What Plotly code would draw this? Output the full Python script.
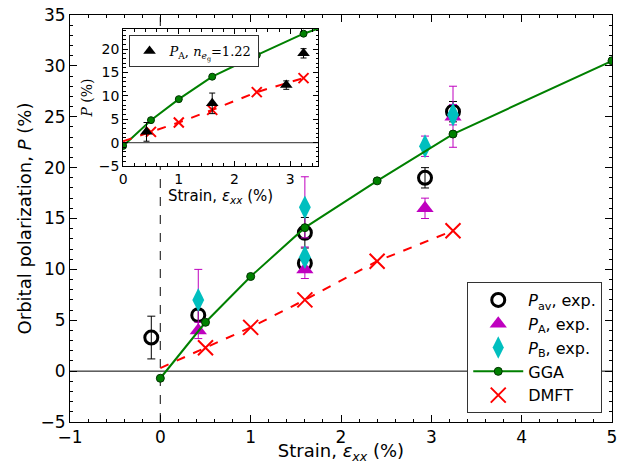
import plotly.graph_objects as go

# ---- data ----
gga_x = [0.0, 0.5, 1.0, 1.6, 2.4, 3.24, 5.0]
gga_y = [-0.7, 4.8, 9.3, 14.1, 18.7, 23.3, 30.5]

dmft_line_x = [0.0, 0.5, 1.0, 1.6, 2.4, 3.24]
dmft_line_y = [0.3, 2.3, 4.3, 7.0, 10.8, 13.8]
dmft_x = [0.5, 1.0, 1.6, 2.4, 3.24]
dmft_y = [2.3, 4.3, 7.0, 10.8, 13.8]

pav_x = [-0.1, 0.42, 1.6, 1.6, 2.93, 3.24]
pav_y = [3.3, 5.5, 13.6, 10.6, 19.0, 25.5]
pav_err = [2.1, 0.5, 1.5, 0.5, 1.0, 1.0]

pa_x = [0.42, 1.6, 2.93, 3.24]
pa_y = [4.0, 10.0, 16.0, 25.0]
pa_err = [0.8, 0.9, 1.0, 3.0]

pb_x = [0.42, 1.6, 1.6, 2.93, 3.24]
pb_y = [7.0, 16.1, 11.2, 22.1, 25.2]
pb_err = [3.0, 3.0, 1.0, 1.0, 1.0]

inset_pa_x = [0.42, 1.6, 2.93, 3.24]
inset_pa_y = [2.3, 8.4, 12.3, 19.1]
inset_pa_err = [2.0, 2.2, 0.9, 1.0]

main_xticks = [-1, 0, 1, 2, 3, 4, 5]
main_yticks = [-5, 0, 5, 10, 15, 20, 25, 30, 35]
inset_xticks = [0, 1, 2, 3]
inset_yticks = [-5, 0, 5, 10, 15, 20]

FONT = "DejaVu Sans"
MAG = "#bf00bf"
CYA = "#00bfbf"
GRN = "#008000"

fig = go.Figure()

# reference lines (main)
fig.add_trace(go.Scatter(x=[0, 0], y=[-5, 35], mode="lines",
                         line=dict(color="#333333", dash="dash", width=1.2),
                         showlegend=False, hoverinfo="skip"))
fig.add_trace(go.Scatter(x=[-1, 5], y=[0, 0], mode="lines",
                         line=dict(color="black", width=1),
                         showlegend=False, hoverinfo="skip"))

fig.add_trace(go.Scatter(x=pav_x, y=pav_y, mode="markers", name="<i>P</i><sub>av</sub>, exp.",
                         marker=dict(symbol="circle-open", size=13, color="black", line=dict(width=3, color="black")),
                         error_y=dict(type="data", array=pav_err, color="black", thickness=1, width=4)))
fig.add_trace(go.Scatter(x=pa_x, y=pa_y, mode="markers", name="<i>P</i><sub>A</sub>, exp.",
                         marker=dict(symbol="triangle-up", size=15, color=MAG, line=dict(width=0)),
                         error_y=dict(type="data", array=pa_err, color=MAG, thickness=1, width=4)))
fig.add_trace(go.Scatter(x=pb_x, y=pb_y, mode="markers", name="<i>P</i><sub>B</sub>, exp.",
                         marker=dict(symbol="diamond-tall", size=17, color=CYA, line=dict(width=0)),
                         error_y=dict(type="data", array=pb_err, color=MAG, thickness=1, width=4)))
fig.add_trace(go.Scatter(x=gga_x, y=gga_y, mode="lines+markers", name="GGA",
                         line=dict(color=GRN, width=2),
                         marker=dict(symbol="circle", size=8, color=GRN, line=dict(width=1, color="#003300"))))
fig.add_trace(go.Scatter(x=dmft_line_x, y=dmft_line_y, mode="lines", showlegend=False,
                         line=dict(color="red", width=2, dash="dash"), hoverinfo="skip"))
fig.add_trace(go.Scatter(x=dmft_x, y=dmft_y, mode="markers", name="DMFT",
                         marker=dict(symbol="x-thin-open", size=15, color="red", line=dict(width=2, color="red"))))

# ---- inset ----
fig.add_trace(go.Scatter(x=[0, 3.5], y=[0, 0], mode="lines", xaxis="x2", yaxis="y2",
                         line=dict(color="#555555", width=1.2), showlegend=False, hoverinfo="skip"))
fig.add_trace(go.Scatter(x=gga_x, y=gga_y, mode="lines+markers", xaxis="x2", yaxis="y2", showlegend=False,
                         line=dict(color=GRN, width=2),
                         marker=dict(symbol="circle", size=7, color=GRN, line=dict(width=1, color="#003300"))))
fig.add_trace(go.Scatter(x=dmft_line_x, y=dmft_line_y, mode="lines", xaxis="x2", yaxis="y2", showlegend=False,
                         line=dict(color="red", width=2, dash="dash"), hoverinfo="skip"))
fig.add_trace(go.Scatter(x=dmft_x, y=dmft_y, mode="markers", xaxis="x2", yaxis="y2", showlegend=False,
                         marker=dict(symbol="x-thin-open", size=10, color="red", line=dict(width=2, color="red"))))
fig.add_trace(go.Scatter(x=inset_pa_x, y=inset_pa_y, mode="markers", xaxis="x2", yaxis="y2",
                         name="<i>P</i><sub>A</sub>, <i>n</i><sub><i>e</i><sub>g</sub></sub>=1.22",
                         legend="legend2",
                         marker=dict(symbol="triangle-up", size=11, color="black"),
                         error_y=dict(type="data", array=inset_pa_err, color="black", thickness=1, width=3)))

axis_common = dict(showline=True, linecolor="black", linewidth=1, mirror="allticks",
                   ticks="inside", showgrid=False, zeroline=False, tickcolor="black",
                   automargin=False, ticklabeloverflow="allow")

fig.update_layout(
    width=625, height=464,
    margin=dict(l=70, r=13, t=15, b=42),
    paper_bgcolor="white", plot_bgcolor="white",
    font=dict(family=FONT, color="black"),
    xaxis=dict(range=[-1, 5], tickvals=main_xticks, ticklen=7,
               tickfont=dict(size=17), title=dict(text="Strain, <i>ε</i><sub><i>xx</i></sub> (%)", font=dict(size=18), standoff=2),
               minor=dict(ticks="inside", dtick=0.2, ticklen=3, tickcolor="black"), **axis_common),
    yaxis=dict(range=[-5, 35], tickvals=main_yticks, ticklen=7,
               tickfont=dict(size=17), title=dict(text="Orbital polarization, <i>P</i> (%)", font=dict(size=18), standoff=4),
               minor=dict(ticks="inside", dtick=1, ticklen=3, tickcolor="black"), **axis_common),
    xaxis2=dict(domain=[0.098, 0.4576], anchor="y2", range=[0, 3.5], tickvals=inset_xticks, ticklen=5,
                tickfont=dict(size=14), title=dict(text="Strain, <i>ε</i><sub><i>xx</i></sub> (%)", font=dict(size=15), standoff=0),
                minor=dict(ticks="inside", dtick=0.2, ticklen=2.5, tickcolor="black"), **axis_common),
    yaxis2=dict(domain=[0.629, 0.9656], anchor="x2", range=[-5, 24.3], tickvals=inset_yticks, ticklen=5,
                tickfont=dict(size=14), title=dict(text="<i>P</i> (%)", font=dict(size=14, family="DejaVu Serif"), standoff=2),
                minor=dict(ticks="inside", dtick=1, ticklen=2.5, tickcolor="black"), **axis_common),
    legend=dict(x=0.982, y=0.022, xanchor="right", yanchor="bottom",
                bgcolor="white", bordercolor="#333333", borderwidth=1,
                font=dict(size=16), tracegroupgap=0, itemwidth=50),
    legend2=dict(x=0.108, y=0.951, xanchor="left", yanchor="top",
                 bgcolor="white", bordercolor="#333333", borderwidth=1,
                 font=dict(size=13, family="DejaVu Serif"), itemwidth=30),
)

# remove the default 8px page margin so the figure fills the window exactly
fig.write_html("out.html", config={"displayModeBar": False},
               post_script="document.body.style.margin='0px';")
